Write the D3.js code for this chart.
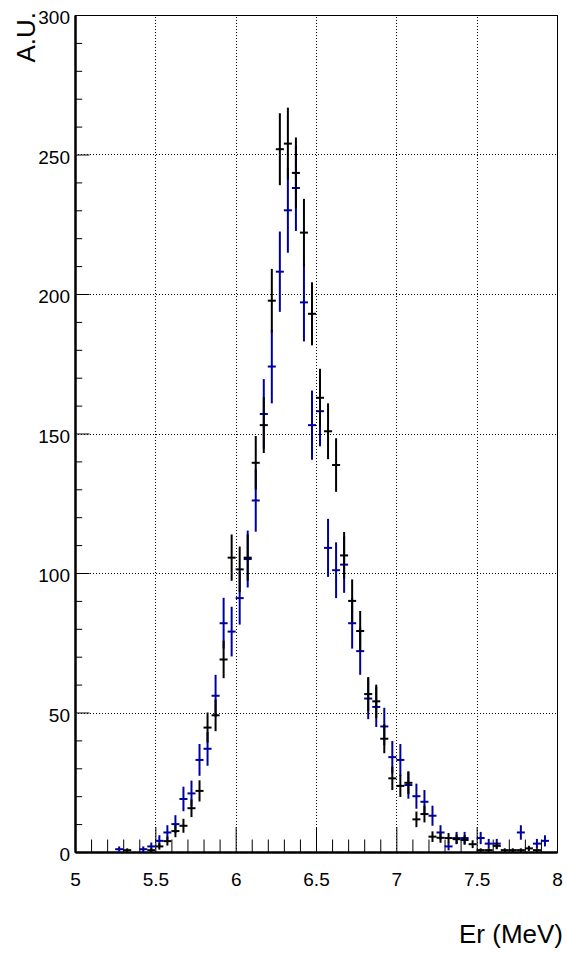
<!DOCTYPE html>
<html>
<head>
<meta charset="utf-8">
<script src="https://cdn.jsdelivr.net/npm/d3@7"></script>
<style>
  body { margin: 0; background: #fff; }
  svg text { font-family: "Liberation Sans", Arial, Helvetica, sans-serif; }
</style>
</head>
<body>
<div id="chart"></div>
<script>
// bin centres, 0.05 MeV wide bins from 5 to 8
var binCenters = [
  5.025, 5.075, 5.125, 5.175, 5.225, 5.275, 5.325, 5.375, 5.425, 5.475,
  5.525, 5.575, 5.625, 5.675, 5.725, 5.775, 5.825, 5.875, 5.925, 5.975,
  6.025, 6.075, 6.125, 6.175, 6.225, 6.275, 6.325, 6.375, 6.425, 6.475,
  6.525, 6.575, 6.625, 6.675, 6.725, 6.775, 6.825, 6.875, 6.925, 6.975,
  7.025, 7.075, 7.125, 7.175, 7.225, 7.275, 7.325, 7.375, 7.425, 7.475,
  7.525, 7.575, 7.625, 7.675, 7.725, 7.775, 7.825, 7.875, 7.925, 7.975
];
var binWidth = 0.05;

// blue histogram
var blueValues = [
  0, 0, 0, 0, 0, 1, 0, 0, 1, 2,
  4, 7, 10, 19, 21, 33, 37, 56, 82, 79,
  91, 105, 126, 157, 174, 208, 230, 238, 197, 153,
  158, 109, 101, 103, 82, 72, 55, 52, 45, 34,
  33, 24, 20, 18, 13, 7, 2, 5, 5, 0,
  5, 3, 3, 0, 0, 7, 0, 3, 4, 0
];
var blueErrors = [
  0, 0, 0, 0, 0, 1, 0, 0, 1, 1.4,
  2, 2.6, 3.2, 4.4, 4.6, 5.7, 6.1, 7.5, 9.1, 8.9,
  9.5, 10.2, 11.2, 12.5, 13.2, 14.4, 15.2, 15.4, 14.0, 12.4,
  12.6, 10.4, 10.0, 10.1, 9.1, 8.5, 7.4, 7.2, 6.7, 5.8,
  5.7, 4.9, 4.5, 4.2, 3.6, 2.6, 1.4, 2.2, 2.2, 0,
  2.2, 1.7, 1.7, 0, 0, 2.6, 0, 1.7, 2, 0
];

// black histogram
var blackValues = [
  0, 0, 0, 0, 0, 0, 0.66, 0, 0, 0.66,
  2.0, 3.9, 7.5, 9.4, 15.7, 21.9, 44.6, 49, 69, 105.5,
  101.3, 105.5, 139.5, 153, 197.6, 251.9, 253.9, 243.4, 222, 192.9,
  162.8, 150.8, 138.7, 106.3, 90, 79.2, 56.6, 54, 40.6, 26.4,
  23.7, 24.8, 11.7, 13.6, 5.5, 5.1, 5.0, 4.6, 4.3, 2.8,
  0.66, 0.66, 2.2, 0.66, 0.66, 0.66, 1.3, 0.66, 0, 0
];
var blackErrors = [
  0, 0, 0, 0, 0, 0, 0.66, 0, 0, 0.66,
  1.15, 1.6, 2.2, 2.5, 3.2, 3.8, 5.4, 5.7, 6.7, 8.3,
  8.2, 8.3, 9.6, 10.0, 11.4, 12.9, 12.9, 12.7, 12.1, 11.3,
  10.4, 10.0, 9.6, 8.4, 7.7, 7.2, 6.1, 6.0, 5.2, 4.2,
  4.0, 4.0, 2.8, 3.0, 1.9, 1.8, 1.8, 1.7, 1.7, 1.4,
  0.66, 0.66, 1.2, 0.66, 0.66, 0.66, 0.93, 0.66, 0, 0
];

var xMajorTicks = [5, 5.5, 6, 6.5, 7, 7.5, 8];
var yMajorTicks = [0, 50, 100, 150, 200, 250, 300];
var xTitle = "Er (MeV)";
var yTitle = "A.U.";

var width = 567, height = 954;
var margin = {top: 15, right: 10, bottom: 102, left: 75};
var x0 = margin.left, x1 = width - margin.right,
    y0 = height - margin.bottom, y1 = margin.top;

var svg = d3.select("#chart").append("svg")
    .attr("width", width)
    .attr("height", height);

var x = d3.scaleLinear().domain([5, 8]).range([x0, x1]);
var y = d3.scaleLinear().domain([0, 300]).range([y0, y1]);

// dotted grid
var grid = svg.append("g").attr("stroke", "#000").attr("stroke-width", 1)
    .attr("stroke-dasharray", "1,2");
grid.selectAll(".gx")
    .data(xMajorTicks.filter(function(d) { return d > 5 && d < 8; }))
    .enter().append("line")
    .attr("x1", function(d) { return Math.round(x(d)) + 0.5; })
    .attr("x2", function(d) { return Math.round(x(d)) + 0.5; })
    .attr("y1", y0).attr("y2", y1);
grid.selectAll(".gy")
    .data(yMajorTicks.filter(function(d) { return d > 0; }))
    .enter().append("line")
    .attr("y1", function(d) { return Math.round(y(d)) + 0.5; })
    .attr("y2", function(d) { return Math.round(y(d)) + 0.5; })
    .attr("x1", x0).attr("x2", x1);

// frame
svg.append("rect")
    .attr("x", x0 + 0.5).attr("y", y1 + 0.5)
    .attr("width", x1 - x0).attr("height", y0 - y1)
    .attr("fill", "none").attr("stroke", "#000").attr("stroke-width", 1);

// axes, ticks pointing inside like ROOT
var xAxis = svg.append("g").attr("transform", "translate(0," + y0 + ")")
    .call(d3.axisBottom(x).tickValues(xMajorTicks).tickSizeInner(-25).tickSizeOuter(0)
        .tickPadding(21).tickFormat(d3.format("")));
var xMinor = svg.append("g").attr("transform", "translate(0," + y0 + ")")
    .call(d3.axisBottom(x).tickValues(d3.range(51, 80).map(function(d) { return d / 10; })
        .filter(function(d) { return Math.round(d * 10) % 5 !== 0; }))
        .tickSizeInner(-12.5).tickSizeOuter(0).tickFormat(""));

var yAxis = svg.append("g").attr("transform", "translate(" + x0 + ",0)")
    .call(d3.axisLeft(y).tickValues(yMajorTicks).tickSizeInner(-14.5).tickSizeOuter(0)
        .tickPadding(5));
var yMinor = svg.append("g").attr("transform", "translate(" + x0 + ",0)")
    .call(d3.axisLeft(y).tickValues(d3.range(10, 300, 10).filter(function(d) { return d % 50 !== 0; }))
        .tickSizeInner(-7.2).tickSizeOuter(0).tickFormat(""));

[xAxis, xMinor, yAxis, yMinor].forEach(function(g) {
    g.select(".domain").attr("stroke-width", 2);
    g.selectAll(".tick line").attr("stroke-width", 1);
});
xAxis.selectAll("text").attr("font-size", 19).attr("fill", "#000");
yAxis.selectAll("text").attr("font-size", 19).attr("fill", "#000").attr("dy", "0.45em");

// axis titles
svg.append("text")
    .attr("x", 563).attr("y", 943)
    .attr("text-anchor", "end")
    .attr("font-size", 26)
    .text(xTitle);
svg.append("text")
    .attr("transform", "translate(35,12) rotate(-90)")
    .attr("text-anchor", "end")
    .attr("font-size", 26)
    .text(yTitle);

// error-bar crosses
function drawHist(values, errors, color) {
    var pts = values.map(function(v, i) {
        return {c: binCenters[i], v: v, e: errors[i]};
    }).filter(function(d) { return d.v > 0; });
    var g = svg.append("g").attr("stroke", color).attr("stroke-width", 2);
    g.selectAll(".h").data(pts).enter().append("line")
        .attr("x1", function(d) { return x(d.c - binWidth / 2); })
        .attr("x2", function(d) { return x(d.c + binWidth / 2); })
        .attr("y1", function(d) { return y(d.v); })
        .attr("y2", function(d) { return y(d.v); });
    g.selectAll(".v").data(pts).enter().append("line")
        .attr("x1", function(d) { return x(d.c); })
        .attr("x2", function(d) { return x(d.c); })
        .attr("y1", function(d) { return y(Math.max(0, d.v - d.e)); })
        .attr("y2", function(d) { return y(d.v + d.e); });
}

drawHist(blueValues, blueErrors, "#0000a0");
drawHist(blackValues, blackErrors, "#000");
</script>
</body>
</html>
